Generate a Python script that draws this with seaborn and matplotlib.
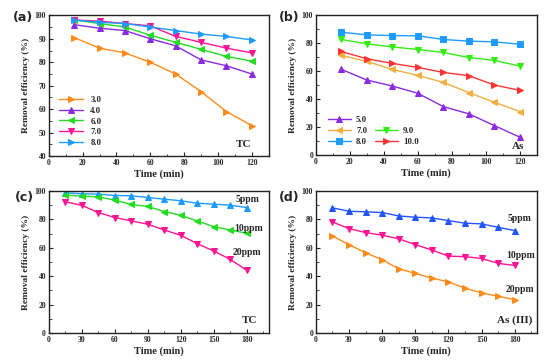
import matplotlib
matplotlib.use("Agg")
import matplotlib.pyplot as plt
import seaborn as sns
from matplotlib.ticker import MultipleLocator, AutoMinorLocator

# ---- data ----
t_ph = [15, 30, 45, 60, 75, 90, 105, 120]
tc_ph_labels = ["3.0", "4.0", "6.0", "7.0", "8.0"]
tc_ph_3 = [90.5, 86.0, 84.0, 80.0, 75.0, 67.5, 59.0, 53.0]
tc_ph_4 = [96.0, 94.5, 93.5, 90.0, 87.0, 81.0, 78.5, 75.0]
tc_ph_6 = [98.0, 96.5, 95.0, 91.5, 88.5, 85.5, 82.5, 80.5]
tc_ph_7 = [98.0, 97.5, 96.5, 95.5, 91.0, 88.5, 86.0, 84.0]
tc_ph_8 = [98.0, 97.0, 96.5, 95.0, 93.5, 92.0, 91.0, 89.5]

as_ph_labels = ["5.0", "7.0", "8.0", "9.0", "10.0"]
as_ph_5 = [61.3, 53.7, 49.4, 44.2, 34.7, 29.5, 21.1, 12.8]
as_ph_7 = [71.3, 67.0, 61.3, 57.0, 52.0, 44.7, 37.8, 31.1]
as_ph_8 = [87.9, 86.0, 85.5, 85.3, 82.7, 81.5, 81.0, 79.3]
as_ph_9 = [82.7, 79.6, 77.4, 75.5, 73.4, 69.8, 67.7, 63.7]
as_ph_10 = [74.1, 68.9, 65.6, 62.7, 59.1, 56.8, 50.1, 46.3]

t_conc = [15, 30, 45, 60, 75, 90, 105, 120, 135, 150, 165, 180]
conc_labels = ["5ppm", "10ppm", "20ppm"]
tc_5 = [98.8, 98.1, 97.9, 96.9, 96.7, 95.5, 94.3, 93.2, 91.5, 90.8, 90.1, 88.4]
tc_10 = [97.2, 96.5, 96.0, 93.6, 90.6, 89.2, 85.6, 83.0, 79.0, 75.0, 72.6, 70.3]
tc_20 = [92.5, 90.0, 84.9, 81.4, 79.0, 76.7, 72.6, 68.9, 63.0, 57.8, 51.9, 44.3]
as_5 = [88.2, 85.8, 85.4, 84.9, 82.5, 81.6, 81.1, 79.2, 77.4, 76.9, 74.5, 72.2]
as_10 = [78.3, 73.6, 70.8, 68.9, 66.5, 62.3, 58.5, 54.2, 53.8, 52.6, 49.1, 47.6]
as_20 = [68.4, 62.3, 56.6, 51.7, 45.3, 42.0, 38.7, 36.1, 31.6, 28.3, 25.9, 23.6]

sns.set_style("ticks")
plt.rcParams["font.family"] = ["Liberation Serif", "DejaVu Serif"]
plt.rcParams["font.weight"] = "bold"
plt.rcParams["axes.labelweight"] = "bold"
plt.rcParams["xtick.direction"] = "in"
plt.rcParams["ytick.direction"] = "in"

fig = plt.figure(figsize=(5.54, 3.64), dpi=100)
ax_a = fig.add_axes([0.088, 0.571, 0.397, 0.387])
ax_b = fig.add_axes([0.570, 0.574, 0.399, 0.384])
ax_c = fig.add_axes([0.088, 0.085, 0.397, 0.390])
ax_d = fig.add_axes([0.570, 0.085, 0.399, 0.390])


def draw(ax, x, ys, labels, colors, markers):
    for y, lab, col, mk in zip(ys, labels, colors, markers):
        sns.lineplot(x=x, y=y, ax=ax, color=col, marker=mk, markersize=4.5,
                     markeredgecolor=col, linewidth=1.0, label=lab)


def style(ax, xmax, xstep, ymin, ystep):
    ax.set_xlim(0, xmax)
    ax.set_ylim(ymin, 100)
    ax.xaxis.set_major_locator(MultipleLocator(xstep))
    ax.yaxis.set_major_locator(MultipleLocator(ystep))
    ax.xaxis.set_minor_locator(AutoMinorLocator(2))
    ax.yaxis.set_minor_locator(AutoMinorLocator(2))
    ax.tick_params(which="major", length=3, width=0.8, labelsize=5.5, pad=2)
    ax.tick_params(which="minor", length=1.8, width=0.6)
    for s in ax.spines.values():
        s.set_linewidth(1.0)
        s.set_color("#222222")
    ax.set_xlabel("Time (min)", fontsize=7.5, labelpad=1.5)
    ax.set_ylabel("Removal efficiency (%)", fontsize=6.8, labelpad=3)


# (a)
draw(ax_a, t_ph, [tc_ph_3, tc_ph_4, tc_ph_6, tc_ph_7, tc_ph_8], tc_ph_labels,
     ["#ff8c1a", "#8a2be2", "#22dd22", "#ff1493", "#1e9bff"],
     [">", "^", "<", "v", ">"])
style(ax_a, 130, 20, 40, 10)
ax_a.legend(loc="lower left", frameon=False, fontsize=6.3, handlelength=2.8,
            labelspacing=0.3, bbox_to_anchor=(0.03, 0.04), borderaxespad=0)
ax_a.text(115, 44, "TC", fontsize=8, ha="center")

# (b)
draw(ax_b, t_ph, [as_ph_5, as_ph_7, as_ph_8, as_ph_9, as_ph_10], as_ph_labels,
     ["#8a2be2", "#f0b040", "#1e9bff", "#33ee11", "#ff3333"],
     ["^", "<", "s", "v", ">"])
style(ax_b, 130, 20, 0, 20)
h, l = ax_b.get_legend_handles_labels()
blank = plt.Line2D([], [], color="none")
ax_b.legend([h[0], h[1], h[2], blank, h[3], h[4]],
            [l[0], l[1], l[2], "", l[3], l[4]], ncol=2,
            loc="lower left", frameon=False, fontsize=6.3, handlelength=2.6,
            labelspacing=0.3, columnspacing=0.9, handletextpad=0.6,
            bbox_to_anchor=(0.04, 0.04), borderaxespad=0)
ax_b.text(119, 4, "As", fontsize=8, ha="center")

# (c)
draw(ax_c, t_conc, [tc_5, tc_10, tc_20], conc_labels,
     ["#1e9bff", "#22dd22", "#ff1493"], ["^", "<", "v"])
style(ax_c, 200, 30, 0, 20)
ax_c.get_legend().remove()
ax_c.text(181, 92, "5ppm", fontsize=7, ha="center")
ax_c.text(182, 72, "10ppm", fontsize=7, ha="center")
ax_c.text(180, 55, "20ppm", fontsize=7, ha="center")
ax_c.text(183, 7, "TC", fontsize=8, ha="center")

# (d)
draw(ax_d, t_conc, [as_5, as_10, as_20], conc_labels,
     ["#2255ff", "#ff1493", "#ff8c1a"], ["^", "v", ">"])
style(ax_d, 200, 30, 0, 20)
ax_d.get_legend().remove()
ax_d.text(184, 79, "5ppm", fontsize=7, ha="center")
ax_d.text(185, 53, "10ppm", fontsize=7, ha="center")
ax_d.text(185, 29, "20ppm", fontsize=7, ha="center")
ax_d.text(180, 7, "As (III)", fontsize=8, ha="center")

# panel letters, placed in figure pixels
for lab, px, py in [("(a)", 13, 17), ("(b)", 279, 17), ("(c)", 15, 197), ("(d)", 279, 197)]:
    fig.text(px / 554, 1 - py / 364, lab, fontsize=9, fontweight="bold",
             family="DejaVu Sans", ha="left", va="center")

fig.savefig("out.png", dpi=100)
